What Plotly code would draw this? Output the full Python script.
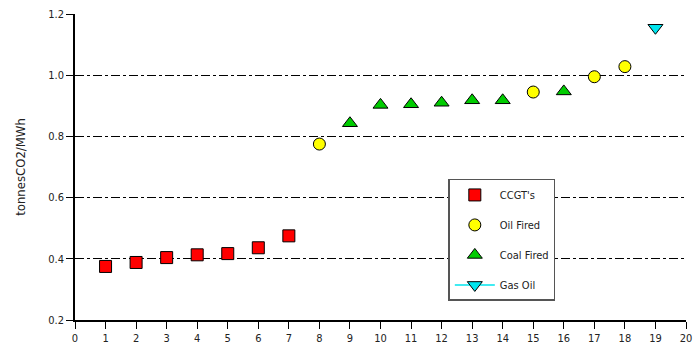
import plotly.graph_objects as go

ccgt_x = [1, 2, 3, 4, 5, 6, 7]
ccgt_y = [0.375, 0.388, 0.404, 0.413, 0.417, 0.436, 0.475]
oil_x = [8, 15, 17, 18]
oil_y = [0.775, 0.945, 0.995, 1.028]
coal_x = [9, 10, 11, 12, 13, 14, 16]
coal_y = [0.843, 0.903, 0.905, 0.91, 0.918, 0.918, 0.947]
gasoil_x = [19]
gasoil_y = [1.155]

y_ticks = [0.2, 0.4, 0.6, 0.8, 1.0, 1.2]
y_tick_labels = ["0.2", "0.4", "0.6", "0.8", "1.0", "1.2"]
x_ticks = list(range(0, 21))

font = "DejaVu Sans Condensed, Liberation Sans Narrow, sans-serif"

fig = go.Figure()
fig.add_trace(go.Scatter(x=ccgt_x, y=ccgt_y, mode="markers", name="CCGT's", legendgroup="a",
                         marker=dict(symbol="square", size=12, color="#ff0000",
                                     line=dict(color="black", width=1))))
fig.add_trace(go.Scatter(x=oil_x, y=oil_y, mode="markers", name="Oil Fired", legendgroup="b",
                         marker=dict(symbol="circle", size=12, color="#ffff00",
                                     line=dict(color="black", width=1))))
fig.add_trace(go.Scatter(x=coal_x, y=coal_y, mode="markers", name="Coal Fired", legendgroup="c",
                         marker=dict(symbol="triangle-up", size=13, color="#00cc00",
                                     line=dict(color="black", width=1))))
fig.add_trace(go.Scatter(x=gasoil_x, y=gasoil_y, mode="lines+markers", name="Gas Oil", legendgroup="d",
                         line=dict(color="#00e5ee", width=1.5),
                         marker=dict(symbol="triangle-down", size=13, color="#00e5ee",
                                     line=dict(color="black", width=1))))

fig.update_layout(
    width=699, height=352,
    margin=dict(l=75, r=7, t=14, b=30),
    paper_bgcolor="white", plot_bgcolor="white",
    font=dict(family=font, size=11, color="#222222"),
    showlegend=True,
    legend=dict(x=0.611, y=0.461, xanchor="left", yanchor="top",
                bgcolor="white", bordercolor="#555555", borderwidth=1.5,
                font=dict(size=11, family=font, color="#222222"),
                traceorder="grouped", tracegroupgap=11, itemwidth=40),
)
fig.update_xaxes(range=[0, 20], tickvals=x_ticks, ticks="outside", ticklen=7,
                 tickcolor="black", showline=True, linecolor="black", linewidth=1.5,
                 showgrid=False, zeroline=False)
fig.update_yaxes(range=[0.2, 1.2], tickvals=y_ticks, ticktext=y_tick_labels,
                 ticks="outside", ticklen=7, tickcolor="black",
                 showline=True, linecolor="black", linewidth=1.5,
                 showgrid=True, gridcolor="black", gridwidth=1, griddash="dashdot",
                 zeroline=False, title=dict(text="tonnesCO2/MWh", standoff=20))

fig.write_html("out.html", config={"displayModeBar": False},
               post_script="document.body.style.margin='0';")
